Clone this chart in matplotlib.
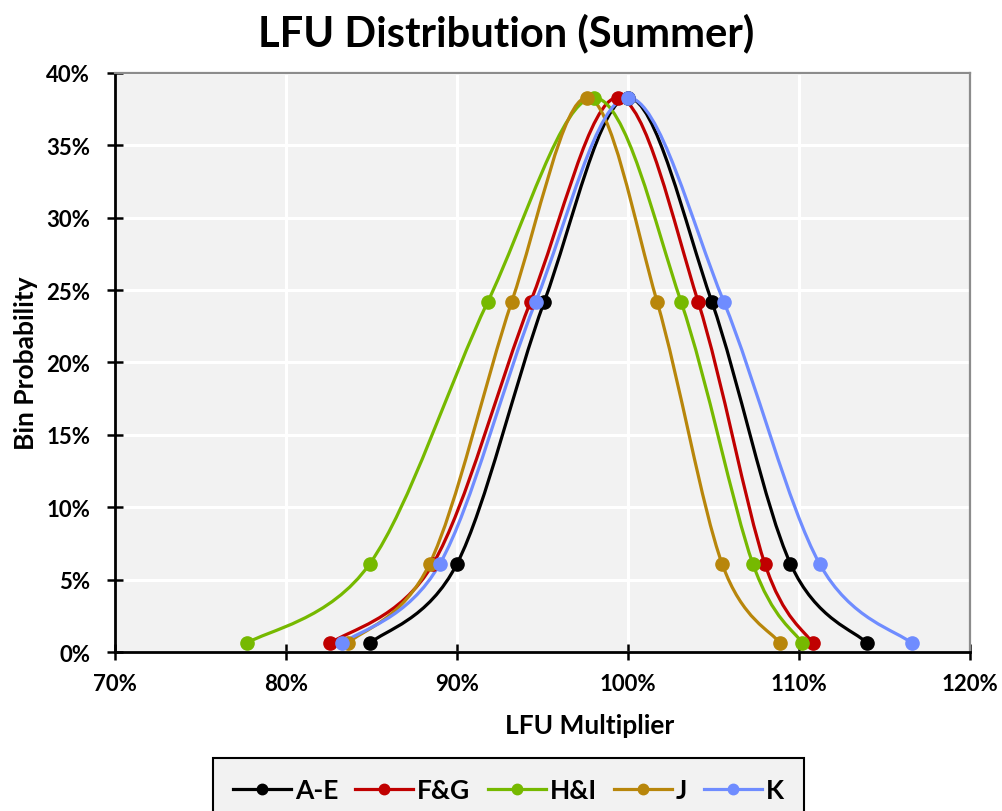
import numpy as np
import matplotlib
matplotlib.use("Agg")
import matplotlib.pyplot as plt
from matplotlib.path import Path
from matplotlib.patches import PathPatch
from matplotlib.lines import Line2D
from matplotlib.ticker import PercentFormatter, MultipleLocator

plt.rcParams["font.family"] = ["Lato", "DejaVu Sans"]
plt.rcParams["font.weight"] = "bold"

# =========================
# DATA
# =========================
bin_prob = [0.006, 0.061, 0.242, 0.383, 0.242, 0.061, 0.006]

lfu_ae = [0.849, 0.900, 0.951, 1.000, 1.049, 1.095, 1.140]
lfu_fg = [0.826, 0.886, 0.943, 0.994, 1.041, 1.080, 1.108]
lfu_hi = [0.777, 0.849, 0.918, 0.980, 1.031, 1.073, 1.102]
lfu_j = [0.836, 0.884, 0.932, 0.976, 1.017, 1.055, 1.089]
lfu_k = [0.833, 0.890, 0.946, 1.000, 1.056, 1.112, 1.166]

series_names = ["A-E", "F&G", "H&I", "J", "K"]
series_x = [lfu_ae, lfu_fg, lfu_hi, lfu_j, lfu_k]
colors = ["#000000", "#C00000", "#76B900", "#B8860B", "#6F8CFF"]


def smooth_path(xs, ys):
    # Excel-style smoothed line: cubic bezier through every point
    pts = np.column_stack([xs, ys])
    n = len(pts)
    verts = [pts[0]]
    codes = [Path.MOVETO]
    for i in range(n - 1):
        p0 = pts[i - 1] if i > 0 else pts[i]
        p1 = pts[i]
        p2 = pts[i + 1]
        p3 = pts[i + 2] if i + 2 < n else pts[i + 1]
        c1 = p1 + (p2 - p0) / 6.0
        c2 = p2 - (p3 - p1) / 6.0
        verts += [c1, c2, p2]
        codes += [Path.CURVE4] * 3
    return Path(verts, codes)


# =========================
# FIGURE
# =========================
fig = plt.figure(figsize=(10.03, 8.12), dpi=100)
ax = fig.add_axes([0.1147, 0.1958, 0.8524, 0.7131])
ax.set_facecolor("#F2F2F2")

for xs, col in zip(series_x, colors):
    patch = PathPatch(smooth_path(xs, bin_prob), facecolor="none",
                      edgecolor=col, lw=2.3, zorder=3)
    ax.add_patch(patch)
    ax.plot(xs, bin_prob, "o", color=col, ms=9.5, zorder=4)

ax.set_xlim(0.70, 1.20)
ax.set_ylim(0, 0.40)
ax.xaxis.set_major_locator(MultipleLocator(0.10))
ax.yaxis.set_major_locator(MultipleLocator(0.05))
ax.xaxis.set_major_formatter(PercentFormatter(1.0, decimals=0))
ax.yaxis.set_major_formatter(PercentFormatter(1.0, decimals=0))

ax.grid(True, color="white", lw=2.2, zorder=0)
ax.set_axisbelow(True)

for side in ["left", "bottom"]:
    ax.spines[side].set_color("black")
    ax.spines[side].set_linewidth(2.0)
for side in ["top", "right"]:
    ax.spines[side].set_color("#8C8C8C")
    ax.spines[side].set_linewidth(1.6)

ax.tick_params(axis="both", direction="inout", length=12, width=1.8,
               labelsize=16, color="black")
ax.tick_params(axis="x", pad=9)
ax.tick_params(axis="y", pad=12)
for lab in ax.get_xticklabels() + ax.get_yticklabels():
    lab.set_fontweight("bold")

ax.set_xlabel("LFU Multiplier", fontsize=19, fontweight="bold", labelpad=6)
ax.xaxis.set_label_coords(0.555, -0.105)
ax.set_ylabel("Bin Probability", fontsize=19, fontweight="bold", labelpad=6)

fig.text(0.505, 0.959, "LFU Distribution (Summer)", ha="center", va="center",
         fontsize=30, fontweight="bold")

# =========================
# LEGEND
# =========================
handles = [
    Line2D([0], [0], color=col, lw=2.3, marker="o", ms=7.5, label=name)
    for name, col in zip(series_names, colors)
]
leg = fig.legend(handles=handles, loc="upper center", ncol=5,
                 bbox_to_anchor=(0.507, 1 - 759 / 812), frameon=True,
                 fancybox=False, edgecolor="black", facecolor="#F2F2F2",
                 prop={"size": 19, "weight": "bold"}, handlelength=2.2,
                 handletextpad=0.15, columnspacing=0.65, borderpad=0.75,
                 borderaxespad=0)
leg.get_frame().set_linewidth(1.5)
leg.get_frame().set_alpha(1)

fig.savefig("out.png", dpi=100)
